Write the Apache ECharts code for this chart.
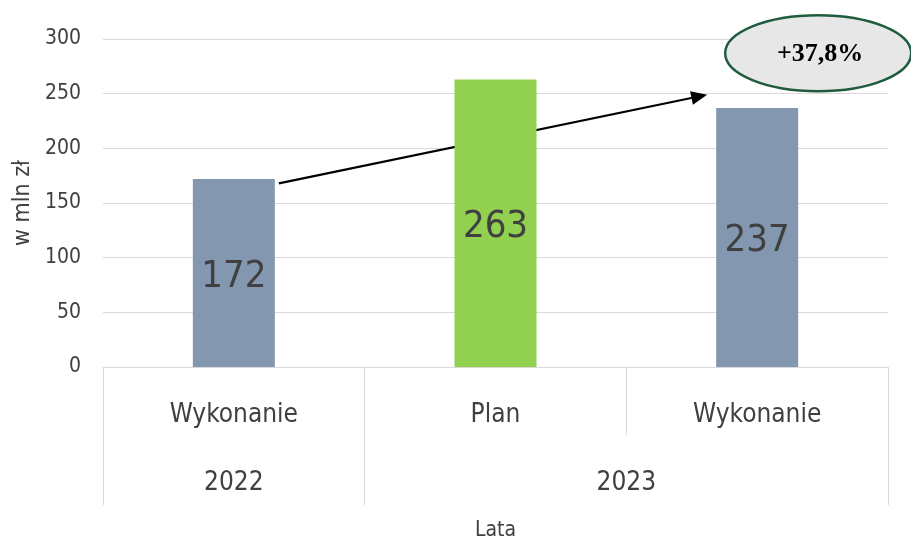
<!DOCTYPE html>
<html>
<head>
<meta charset="utf-8">
<script src="https://cdn.jsdelivr.net/npm/echarts@6/dist/echarts.min.js"></script>
<style>
  html, body { margin: 0; padding: 0; background: #fff; }
  #chart { width: 911px; height: 543px; }
</style>
</head>
<body>
<div id="chart"></div>
<script>
// dane
const categories = ['Wykonanie', 'Plan', 'Wykonanie']
const values = [172, 263, 237]
const barColors = ['#8497b0', '#92d050', '#8497b0']
const years = ['2022', '2023']
const yearCenters = [0.5, 2]      // środek grupy lat na osi 0..3
const yearBounds = [0, 1, 3]
const yTicks = [0, 50, 100, 150, 200, 250, 300]
const growthLabel = '+37,8%'

const font = "'Liberation Sans Narrow', 'DejaVu Sans Condensed', sans-serif"
const textColor = '#404040'
const lineColor = '#d9d9d9'

let chart = echarts.init(document.getElementById('chart'))

chart.setOption({
    animation: false,
    grid: { left: 103, right: 23, top: 39, bottom: 176, containLabel: false, outerBoundsMode: 'none' },
    xAxis: [
        {
            type: 'category',
            data: categories,
            position: 'bottom',
            axisLine: { lineStyle: { color: lineColor, width: 1 } },
            axisTick: { show: true, length: 68, lineStyle: { color: lineColor } },
            axisLabel: { color: textColor, fontSize: 26, fontFamily: font, margin: 35 },
        },
        {
            type: 'value',
            min: 0,
            max: 3,
            position: 'bottom',
            offset: 68,
            axisLine: { show: false },
            splitLine: { show: false },
            axisTick: { show: true, length: 70, customValues: yearBounds, lineStyle: { color: lineColor } },
            axisLabel: {
                customValues: yearCenters,
                color: textColor, fontSize: 26, fontFamily: font, margin: 35,
                formatter: (v) => years[yearCenters.indexOf(v)] || ''
            },
            name: 'Lata',
            nameLocation: 'middle',
            nameGap: 85,
            nameTextStyle: { color: textColor, fontSize: 21, fontFamily: font },
        }
    ],
    yAxis: {
        type: 'value',
        min: yTicks[0],
        max: yTicks[yTicks.length - 1],
        interval: 50,
        axisLine: { show: false },
        axisTick: { show: false },
        splitLine: { lineStyle: { color: lineColor, width: 1 } },
        axisLabel: { color: textColor, fontSize: 21, fontFamily: font, margin: 22 },
        name: 'w mln zł',
        nameLocation: 'middle',
        nameGap: 68,
        nameTextStyle: { color: textColor, fontSize: 23, fontFamily: font },
    },
    series: [
        {
            type: 'bar',
            barWidth: 82,
            data: values.map((v, i) => ({ value: v, itemStyle: { color: barColors[i] } })),
            label: {
                show: true,
                position: 'inside',
                offset: [0, 4],
                color: textColor,
                fontSize: 38,
                fontFamily: font,
            }
        }
    ]
})

// strzałka i elipsa (adnotacja)
const start = chart.convertToPixel({ xAxisIndex: 0, yAxisIndex: 0 }, [0, 168])
const end = chart.convertToPixel({ xAxisIndex: 0, yAxisIndex: 0 }, [2, 249])
const tip = chart.convertToPixel({ xAxisIndex: 0, yAxisIndex: 0 }, [2, 286])
const x1 = start[0] + 45, y1 = start[1]
const x2 = end[0] - 50, y2 = end[1]
const ang = Math.atan2(y2 - y1, x2 - x1)
const ah = 16, aw = 7
const p1 = [x2 - ah * Math.cos(ang) + aw * Math.sin(ang), y2 - ah * Math.sin(ang) - aw * Math.cos(ang)]
const p2 = [x2 - ah * Math.cos(ang) - aw * Math.sin(ang), y2 - ah * Math.sin(ang) + aw * Math.cos(ang)]

chart.setOption({
    graphic: [
        {
            type: 'line',
            shape: { x1: x1, y1: y1, x2: x2 - 10 * Math.cos(ang), y2: y2 - 10 * Math.sin(ang) },
            style: { stroke: '#000', lineWidth: 2.2 },
        },
        {
            type: 'polygon',
            shape: { points: [[x2, y2], p1, p2] },
            style: { fill: '#000' },
        },
        {
            type: 'ellipse',
            shape: { cx: tip[0] + 61, cy: tip[1] - 1, rx: 93, ry: 38 },
            style: { fill: '#e7e7e7', stroke: '#1f5c3d', lineWidth: 2.5 },
        },
        {
            type: 'text',
            x: tip[0] + 63,
            y: tip[1],
            style: {
                text: growthLabel,
                fill: '#000',
                font: "bold 26px 'Liberation Serif', 'DejaVu Serif', serif",
                align: 'center',
                verticalAlign: 'middle',
            }
        }
    ]
})
</script>
</body>
</html>
